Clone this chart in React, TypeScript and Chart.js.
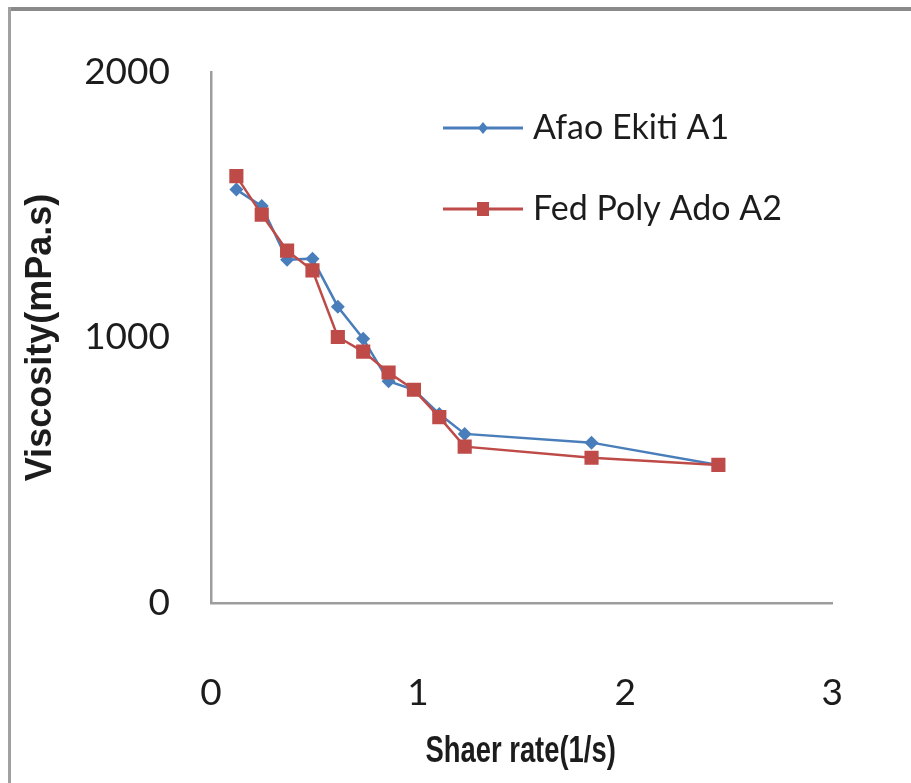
import { useEffect, useRef } from "react";
import { Chart, registerables } from "chart.js";

Chart.register(...registerables);

// ---- data ----
const shearRate = [0.1225, 0.245, 0.3675, 0.49, 0.6125, 0.735, 0.8575, 0.98, 1.1025, 1.225, 1.8375, 2.45];
const afaoEkitiA1 = [1557, 1495, 1293, 1297, 1116, 995, 835, 803, 712, 637, 604, 520];
const fedPolyAdoA2 = [1608, 1463, 1327, 1253, 1002, 947, 868, 803, 700, 589, 547, 520];
const seriesLabels = ["Afao Ekiti A1", "Fed Poly Ado A2"];
const xTickValues = [0, 1, 2, 3];
const yTickValues = [0, 1000, 2000];
const xTitle = "Shaer rate(1/s)";
const yTitle = "Viscosity(mPa.s)";

const BLUE = "#4a7ebb";
const RED = "#be4b48";
const TEXT = "#1c1c1c";
const AXIS = "#9d9d9d";

const framePlugin = {
  id: "frame",
  beforeDraw(chart: any) {
    const { ctx, width, height } = chart;
    ctx.save();
    ctx.fillStyle = "#ffffff";
    ctx.fillRect(0, 0, width, height);
    ctx.fillStyle = "#8a8a8a";
    ctx.fillRect(8, 7, width - 8, 4);
    ctx.fillStyle = "#a0a0a0";
    ctx.fillRect(8, 7, 3, height - 7);
    ctx.restore();
  },
};

// condensed x-axis title, centred under the plot area
const xTitlePlugin = {
  id: "xTitle",
  afterDraw(chart: any) {
    const { ctx, chartArea } = chart;
    ctx.save();
    ctx.translate((chartArea.left + chartArea.right) / 2 - 1, 752);
    ctx.scale(0.74, 1);
    ctx.fillStyle = TEXT;
    ctx.font = "bold 37px 'Liberation Sans', Arial, sans-serif";
    ctx.textAlign = "center";
    ctx.textBaseline = "middle";
    ctx.fillText(xTitle, 0, 0);
    ctx.restore();
  },
};

const legendPlugin = {
  id: "insideLegend",
  afterDatasetsDraw(chart: any) {
    const { ctx } = chart;
    const items = [
      { label: seriesLabels[0], color: BLUE, shape: "diamond", y: 128 },
      { label: seriesLabels[1], color: RED, shape: "square", y: 209 },
    ];
    ctx.save();
    items.forEach((it) => {
      ctx.strokeStyle = it.color;
      ctx.lineWidth = 3;
      ctx.beginPath();
      ctx.moveTo(443, it.y);
      ctx.lineTo(523, it.y);
      ctx.stroke();
      ctx.fillStyle = it.color;
      const cx = 483;
      if (it.shape === "diamond") {
        ctx.beginPath();
        ctx.moveTo(cx, it.y - 6);
        ctx.lineTo(cx + 5, it.y);
        ctx.lineTo(cx, it.y + 6);
        ctx.lineTo(cx - 5, it.y);
        ctx.closePath();
        ctx.fill();
      } else {
        ctx.fillRect(cx - 6, it.y - 7, 12, 14);
      }
      ctx.fillStyle = TEXT;
      ctx.font = "34px Lato";
      ctx.textBaseline = "middle";
      ctx.textAlign = "left";
      ctx.fillText(it.label, 533, it.y);
    });
    ctx.restore();
  },
};

export default function App() {
  const canvasRef = useRef<HTMLCanvasElement | null>(null);

  useEffect(() => {
    if (!canvasRef.current) return;
    const chart = new Chart(canvasRef.current, {
      type: "scatter",
      data: {
        datasets: [
          {
            label: seriesLabels[0],
            data: shearRate.map((x, i) => ({ x, y: afaoEkitiA1[i] })),
            showLine: true,
            borderColor: BLUE,
            backgroundColor: BLUE,
            borderWidth: 2.5,
            pointStyle: "rectRot",
            pointRadius: 7,
            pointBorderWidth: 0,
            order: 1,
          },
          {
            label: seriesLabels[1],
            data: shearRate.map((x, i) => ({ x, y: fedPolyAdoA2[i] })),
            showLine: true,
            borderColor: RED,
            backgroundColor: RED,
            borderWidth: 2.5,
            pointStyle: "rect",
            pointRadius: 10,
            pointBorderWidth: 0,
            order: 0,
          },
        ],
      },
      options: {
        animation: false,
        responsive: false,
        maintainAspectRatio: false,
        layout: { padding: { left: 0, right: 76, top: 72, bottom: 0 } },
        plugins: { legend: { display: false }, tooltip: { enabled: false } },
        scales: {
          x: {
            type: "linear",
            min: 0,
            max: 3,
            afterBuildTicks: (s: any) => {
              s.ticks = xTickValues.map((v) => ({ value: v }));
            },
            afterFit: (s: any) => {
              s.height = 180;
            },
            ticks: {
              font: { family: "Lato", size: 37 },
              color: TEXT,
              padding: 68,
              maxRotation: 0,
              callback: (v: any) => String(v),
            },
            grid: { display: false, drawTicks: false },
            border: { display: true, color: AXIS, width: 2.5 },
            title: { display: false },
          },
          y: {
            type: "linear",
            min: 0,
            max: 2000,
            afterBuildTicks: (s: any) => {
              s.ticks = yTickValues.map((v) => ({ value: v }));
            },
            afterFit: (s: any) => {
              s.width = 211;
            },
            ticks: {
              font: { family: "Lato", size: 37 },
              color: TEXT,
              padding: 41,
              callback: (v: any) => String(v),
            },
            grid: { display: false, drawTicks: false },
            border: { display: true, color: AXIS, width: 2.5 },
            title: {
              display: true,
              text: yTitle,
              color: TEXT,
              font: { family: "'Liberation Sans', Arial, sans-serif", size: 36, weight: "bold" },
              padding: { top: 19, bottom: 0 },
            },
          },
        },
      },
      plugins: [framePlugin, legendPlugin, xTitlePlugin],
    });
    return () => chart.destroy();
  }, []);

  return (
    <div style={{ position: "fixed", left: 0, top: 0, width: 911, height: 783 }}>
      <canvas ref={canvasRef} width={911} height={783} style={{ width: 911, height: 783, display: "block" }} />
    </div>
  );
}
